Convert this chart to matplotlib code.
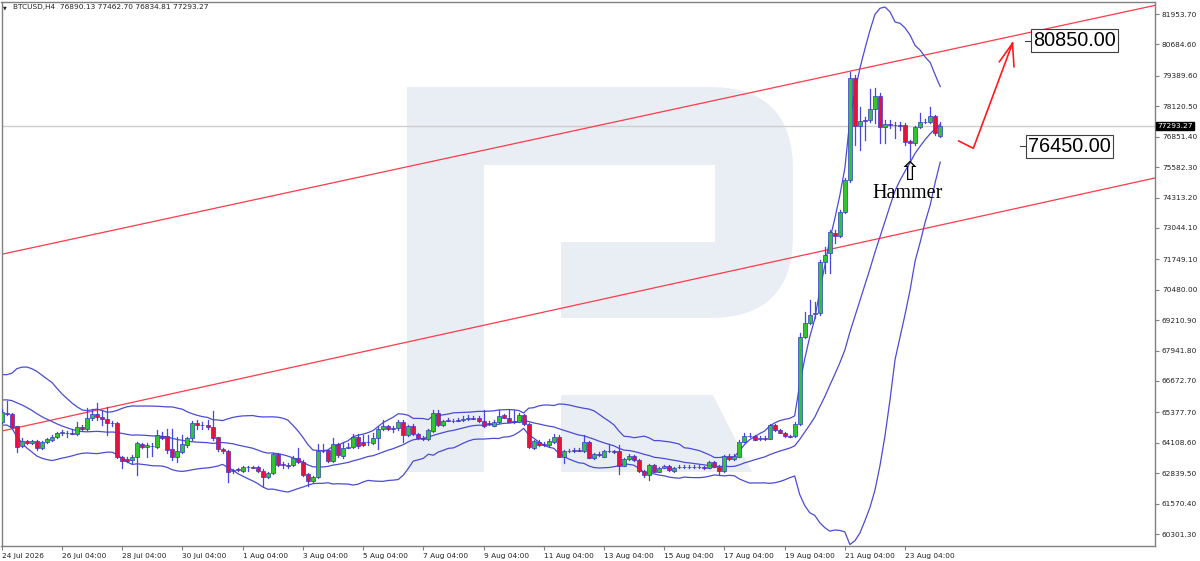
import numpy as np
import pandas as pd
import matplotlib
matplotlib.use('Agg')
import matplotlib.pyplot as plt
import matplotlib.transforms as mtransforms
from matplotlib.patches import Rectangle, PathPatch
from matplotlib.path import Path

# BTCUSD H4, bar 0 = 24 Jul 2026 04:00
open_ = [64965, 65340, 65298, 64798, 63966, 64174, 64091, 64174, 63882, 64132,
         64215, 64340, 64507, 64528, 64507, 64465, 64757, 64673, 65131, 65298,
         65173, 65090, 64944, 64923, 63508, 63424, 63383, 63508, 64049, 63924,
         63986, 63924, 64382, 64382, 63841, 63508, 63716, 64007, 64299, 64923,
         64861, 64840, 64757, 64340, 63841, 63758, 62925, 63008, 62925, 63112,
         63091, 63091, 62925, 62675, 62842, 63633, 63196, 63175, 63175, 63466,
         63300, 62800, 62509, 62675, 63758, 63799, 63341, 64049, 63549, 63903,
         63924, 64340, 64132, 64153, 64091, 64299, 64673, 64798, 64715, 64715,
         64965, 64424, 64798, 64465, 64299, 64257, 64590, 65340, 64840, 65048,
         65007, 65048, 65069, 65111, 65131, 65131, 65007, 64923, 64819, 64965,
         65256, 65152, 65007, 64986, 65256, 64882, 63903, 64153, 64049, 64007,
         64132, 64361, 63528, 63758, 63799, 63799, 63758, 64153, 63487, 63633,
         63528, 63758, 63737, 63737, 63154, 63424, 63570, 63383, 62925, 62738,
         63175, 62904, 63070, 63154, 62925, 63112, 63091, 63112, 63112, 63091,
         63091, 63070, 63279, 63112, 62925, 63549, 63404, 63528, 64153, 64403,
         64382, 64278, 64299, 64278, 64840, 64632, 64528, 64382, 64382, 64882,
         68504, 69087, 69483, 69504, 71648, 72002, 72856, 72710, 73709, 75042,
         79289, 77290, 77540, 77540, 77998, 78540, 77249, 77374, 77332, 77332,
         77332, 76666, 76582, 77249, 77478, 77457, 77707, 76890.13]
high = [65506, 65839, 65340, 64819, 64299, 64215, 64215, 64215, 64174, 64299,
        64424, 64549, 64632, 64590, 64673, 64965, 64840, 65548, 65506, 65756,
        65465, 65590, 65007, 64965, 63549, 63508, 63591, 64132, 64091, 64091,
        64091, 64632, 64549, 64673, 64673, 64340, 64424, 64340, 65007, 65048,
        64965, 65048, 65423, 64361, 63882, 63799, 63008, 63050, 63133, 63133,
        63133, 63133, 63008, 62883, 63674, 63674, 63300, 63258, 63549, 63882,
        63383, 62842, 62717, 64049, 64049, 63841, 64299, 64091, 64132, 64091,
        64465, 64465, 64424, 64424, 64507, 64757, 65048, 64840, 64798, 65048,
        65048, 64840, 64882, 64507, 64382, 64673, 65465, 65465, 65048, 65131,
        65090, 65131, 65215, 65256, 65215, 65215, 65465, 65007, 65048, 65465,
        65298, 65465, 65465, 65340, 65298, 64923, 64215, 64215, 64132, 64257,
        64465, 64424, 63799, 63841, 63882, 63882, 64424, 64174, 63674, 63716,
        63799, 64049, 63799, 64007, 63466, 63633, 63591, 63424, 62967, 63216,
        63216, 63091, 63175, 63175, 63091, 63175, 63175, 63175, 63175, 63175,
        63133, 63341, 63341, 63175, 63591, 63633, 63633, 64215, 64507, 64507,
        64424, 64382, 64382, 64882, 64882, 64673, 64549, 64424, 64965, 68671,
        69545, 70045, 69962, 71711, 72252, 72960, 72960, 73793, 75125, 79539,
        79414, 78081, 77665, 78831, 78873, 78664, 77540, 77540, 77457, 77457,
        77415, 76707, 77290, 77832, 77582, 78081, 77748, 77462.70]
low = [64923, 65256, 64736, 63716, 63924, 64049, 64049, 63799, 63841, 64091,
       64174, 64299, 64424, 64340, 64465, 64424, 64632, 64632, 65048, 65048,
       64840, 64424, 64798, 63466, 63050, 63300, 63258, 62758, 63882, 63508,
       63549, 63882, 64257, 63674, 63383, 63300, 63674, 63924, 64215, 64673,
       64673, 64673, 64215, 63758, 63674, 62467, 62842, 62925, 62883, 62925,
       63050, 62883, 62300, 62633, 62800, 63133, 63050, 63050, 63133, 63258,
       62717, 62300, 62467, 62633, 63716, 63300, 63300, 63508, 63466, 63882,
       63882, 63882, 63966, 64007, 64049, 63841, 64632, 64632, 64549, 64632,
       64132, 64382, 64424, 64257, 64215, 64215, 64549, 64798, 64798, 65007,
       64965, 65007, 65007, 65048, 65090, 64965, 64757, 64840, 64798, 64923,
       65131, 64965, 64923, 64965, 64840, 63882, 63841, 63966, 63966, 63966,
       64091, 63508, 63258, 63716, 63716, 63758, 63716, 63466, 63424, 63549,
       63508, 63716, 63674, 62800, 63133, 63383, 63341, 62883, 62675, 62550,
       62883, 62883, 63050, 62925, 62883, 63050, 63050, 63050, 63050, 63050,
       63008, 63050, 63091, 62758, 62883, 63383, 63383, 63508, 64132, 64340,
       64215, 64215, 64215, 64257, 64590, 64507, 64340, 64340, 64340, 64840,
       68463, 69046, 69295, 69421, 71169, 71169, 72418, 72668, 73668, 74958,
       76499, 76291, 76707, 77457, 77415, 76582, 76582, 77207, 76791, 77124,
       76499, 75875, 76499, 77207, 77415, 77415, 76916, 76834.81]
close = [65381, 65319, 64757, 63924, 64174, 64091, 64174, 63882, 64132, 64257,
         64340, 64507, 64549, 64507, 64486, 64757, 64673, 65131, 65298, 65173,
         65090, 64923, 64923, 63508, 63341, 63341, 63508, 64091, 63924, 64007,
         63966, 64424, 64299, 63799, 63508, 63758, 64049, 64299, 64923, 64840,
         64840, 64757, 64299, 63841, 63758, 62883, 62967, 62987, 63091, 63091,
         63070, 62925, 62675, 62842, 63633, 63175, 63175, 63154, 63466, 63300,
         62758, 62509, 62675, 63758, 63737, 63341, 64049, 63591, 63882, 63924,
         64340, 63966, 64007, 64132, 64299, 64673, 64798, 64673, 64694, 64965,
         64424, 64798, 64465, 64299, 64278, 64632, 65340, 64840, 65007, 65027,
         65027, 65027, 65090, 65131, 65111, 65007, 64798, 64902, 64986, 65236,
         65152, 64986, 64986, 65256, 64882, 63924, 64174, 64007, 64028, 64174,
         64361, 63528, 63758, 63737, 63778, 63778, 64153, 63487, 63633, 63612,
         63737, 63737, 63716, 63154, 63424, 63570, 63383, 62925, 62738, 63175,
         62904, 63070, 63154, 62967, 63070, 63091, 63112, 63091, 63091, 63112,
         63070, 63279, 63112, 62925, 63549, 63404, 63549, 64153, 64403, 64382,
         64236, 64299, 64278, 64840, 64632, 64528, 64382, 64361, 64882, 68504,
         69087, 69420, 69504, 71627, 71919, 72876, 72710, 73709, 75042, 79289,
         77290, 77499, 77519, 77998, 78540, 77249, 77374, 77353, 77353, 77311,
         76624, 76582, 77249, 77457, 77457, 77707, 77000, 77293.27]

# closes before the first visible bar (only needed to start the bands)
prior_close = [65250, 65350, 65700, 66000, 66300, 66500, 66700, 66600, 66400, 66200,
               66500, 66300, 66000, 65900, 65700, 65500, 65300, 65100, 65000]

xtick_idx = list(range(0, 181, 12))
xtick_labels = ['24 Jul 2026', '26 Jul 04:00', '28 Jul 04:00', '30 Jul 04:00',
                '1 Aug 04:00', '3 Aug 04:00', '5 Aug 04:00', '7 Aug 04:00',
                '9 Aug 04:00', '11 Aug 04:00', '13 Aug 04:00', '15 Aug 04:00',
                '17 Aug 04:00', '19 Aug 04:00', '21 Aug 04:00', '23 Aug 04:00']
ytick_vals = [81953.70, 80684.60, 79389.60, 78120.50, 76851.40, 75582.30,
              74313.20, 73044.10, 71749.10, 70480.00, 69210.90, 67941.80,
              66672.70, 65377.70, 64108.60, 62839.50, 61570.40, 60301.30]

# drawn objects: channel lines (two anchor points each), target labels, arrow
channel_top = [(0, 71950), (200, 80970)]
channel_bottom = [(0, 64590), (200, 73760)]
target_prices = [80850.00, 76450.00]
target_x = [205.1, 204.1]
arrow_x = [190.7, 193.6, 201.4]
arrow_p = [76666, 76362, 80734]
wing_x = [198.8, 201.7]
wing_p = [79968, 79760]

W, H = 1200, 561
fig = plt.figure(figsize=(W / 100, H / 100), dpi=100)
ax = fig.add_axes([1.5 / W, 1 - 546 / H, (1155 - 1.5) / W, (546 - 1.5) / H])
ax.set_xlim(-0.05, 229.8)
ax.set_ylim(59802, 82475)

# watermark logo
def fpx(x, y):
    return (x / W, 1 - y / H)

P = Path
p_verts = [(407, 87), (710, 87), (793, 87), (793, 170), (793, 235), (793, 318),
           (710, 318), (561, 318), (561, 242), (715, 242), (715, 165), (484, 165),
           (484, 472), (407, 472), (407, 87)]
p_codes = [P.MOVETO, P.LINETO, P.CURVE3, P.CURVE3, P.LINETO, P.CURVE3, P.CURVE3,
           P.LINETO, P.LINETO, P.LINETO, P.LINETO, P.LINETO, P.LINETO, P.LINETO,
           P.CLOSEPOLY]
leg_verts = [(561, 395), (713, 395), (752, 472), (561, 472), (561, 395)]
leg_codes = [P.MOVETO, P.LINETO, P.LINETO, P.LINETO, P.CLOSEPOLY]
for vv, cc in [(p_verts, p_codes), (leg_verts, leg_codes)]:
    patch = PathPatch(Path([fpx(*v) for v in vv], cc), facecolor='#e9edf4',
                      edgecolor='none', transform=fig.transFigure, zorder=0.5)
    ax.add_patch(patch)

# bollinger bands 20, 2
s = pd.Series(prior_close + close, dtype=float)
mid = s.rolling(20).mean().values[len(prior_close):]
sd = s.rolling(20).std(ddof=0).values[len(prior_close):]
idx = np.arange(len(close))
band_col = '#4b4bd6'
for band in [mid, mid + 2 * sd, mid - 2 * sd]:
    ax.plot(idx, band, color=band_col, lw=0.9, zorder=2)

# current price line
ax.axhline(close[-1], color='#cfcfcf', lw=1.0, zorder=1)

# channel
ax.axline(channel_top[0], channel_top[1], color='#ff3a4a', lw=0.9, zorder=1.5)
ax.axline(channel_bottom[0], channel_bottom[1], color='#ff3a4a', lw=0.9, zorder=1.5)

# candles
bw = 0.8
for i in range(len(close)):
    o, h, l, c = open_[i], high[i], low[i], close[i]
    ax.plot([i, i], [l, h], color='#4747e3', lw=0.9, zorder=3)
    fc = '#2ec52e' if c > o else '#e3123e'
    ax.add_patch(Rectangle((i - bw / 2, min(o, c)), bw, max(abs(c - o), 8),
                           facecolor=fc, edgecolor='#3535d8', lw=0.5, zorder=4))

# ticks
ax.yaxis.tick_right()
ax.set_yticks(ytick_vals)
ax.set_yticklabels(['%.2f' % v for v in ytick_vals])
ax.set_xticks(xtick_idx)
ax.set_xticklabels(xtick_labels)
for lab in ax.get_xticklabels():
    lab.set_horizontalalignment('left')
ax.tick_params(axis='both', labelsize=5.3, length=3, width=0.8, color='#808080',
               labelcolor='#222222', pad=2)
for sp in ax.spines.values():
    sp.set_color('#808080')
    sp.set_linewidth(1.0)

# header
fig.text(3 / W, 1 - 8 / H, '\u25bc', fontsize=3.5, va='center', ha='left', color='#222222')
fig.text(13 / W, 1 - 7.5 / H, 'BTCUSD,H4  76890.13 77462.70 76834.81 77293.27',
         fontsize=5.3, va='center', ha='left', color='#222222')

# price label on the scale
blend = mtransforms.blended_transform_factory(ax.transAxes, ax.transData)
ax.text(1.0 + 2.5 / (1155 - 1.5), close[-1], '%.2f' % close[-1], transform=blend,
        fontsize=5.3, color='white', va='center', ha='left', clip_on=False,
        bbox=dict(boxstyle='square,pad=0.15', facecolor='black', edgecolor='black'))

# target labels
for xx, pp in zip(target_x, target_prices):
    ax.plot([xx - 1.2, xx], [pp, pp], color='#404040', lw=0.8, zorder=5)
    ax.text(xx + 0.45, pp, '%.2f' % pp, fontsize=14.3, family='Liberation Sans',
            va='center', ha='left', color='black', zorder=6,
            bbox=dict(boxstyle='square,pad=0.1', facecolor='white',
                      edgecolor='#404040', lw=0.8))

# red arrow
ax.plot(arrow_x, arrow_p, color='#ff1a1a', lw=1.2, zorder=5)
for wx, wp in zip(wing_x, wing_p):
    ax.plot([arrow_x[-1], wx], [arrow_p[-1], wp], color='#ff1a1a', lw=1.2, zorder=5)

# hammer note
ax.text(180.8, 75342, '\u21e7', fontsize=19, family='DejaVu Sans', ha='center',
        va='center', color='black', zorder=6)
ax.text(180.6, 74280, 'Hammer', fontsize=14.5, family='Liberation Serif',
        ha='center', va='baseline', color='black', zorder=6)

fig.savefig('out.png', dpi=100)
